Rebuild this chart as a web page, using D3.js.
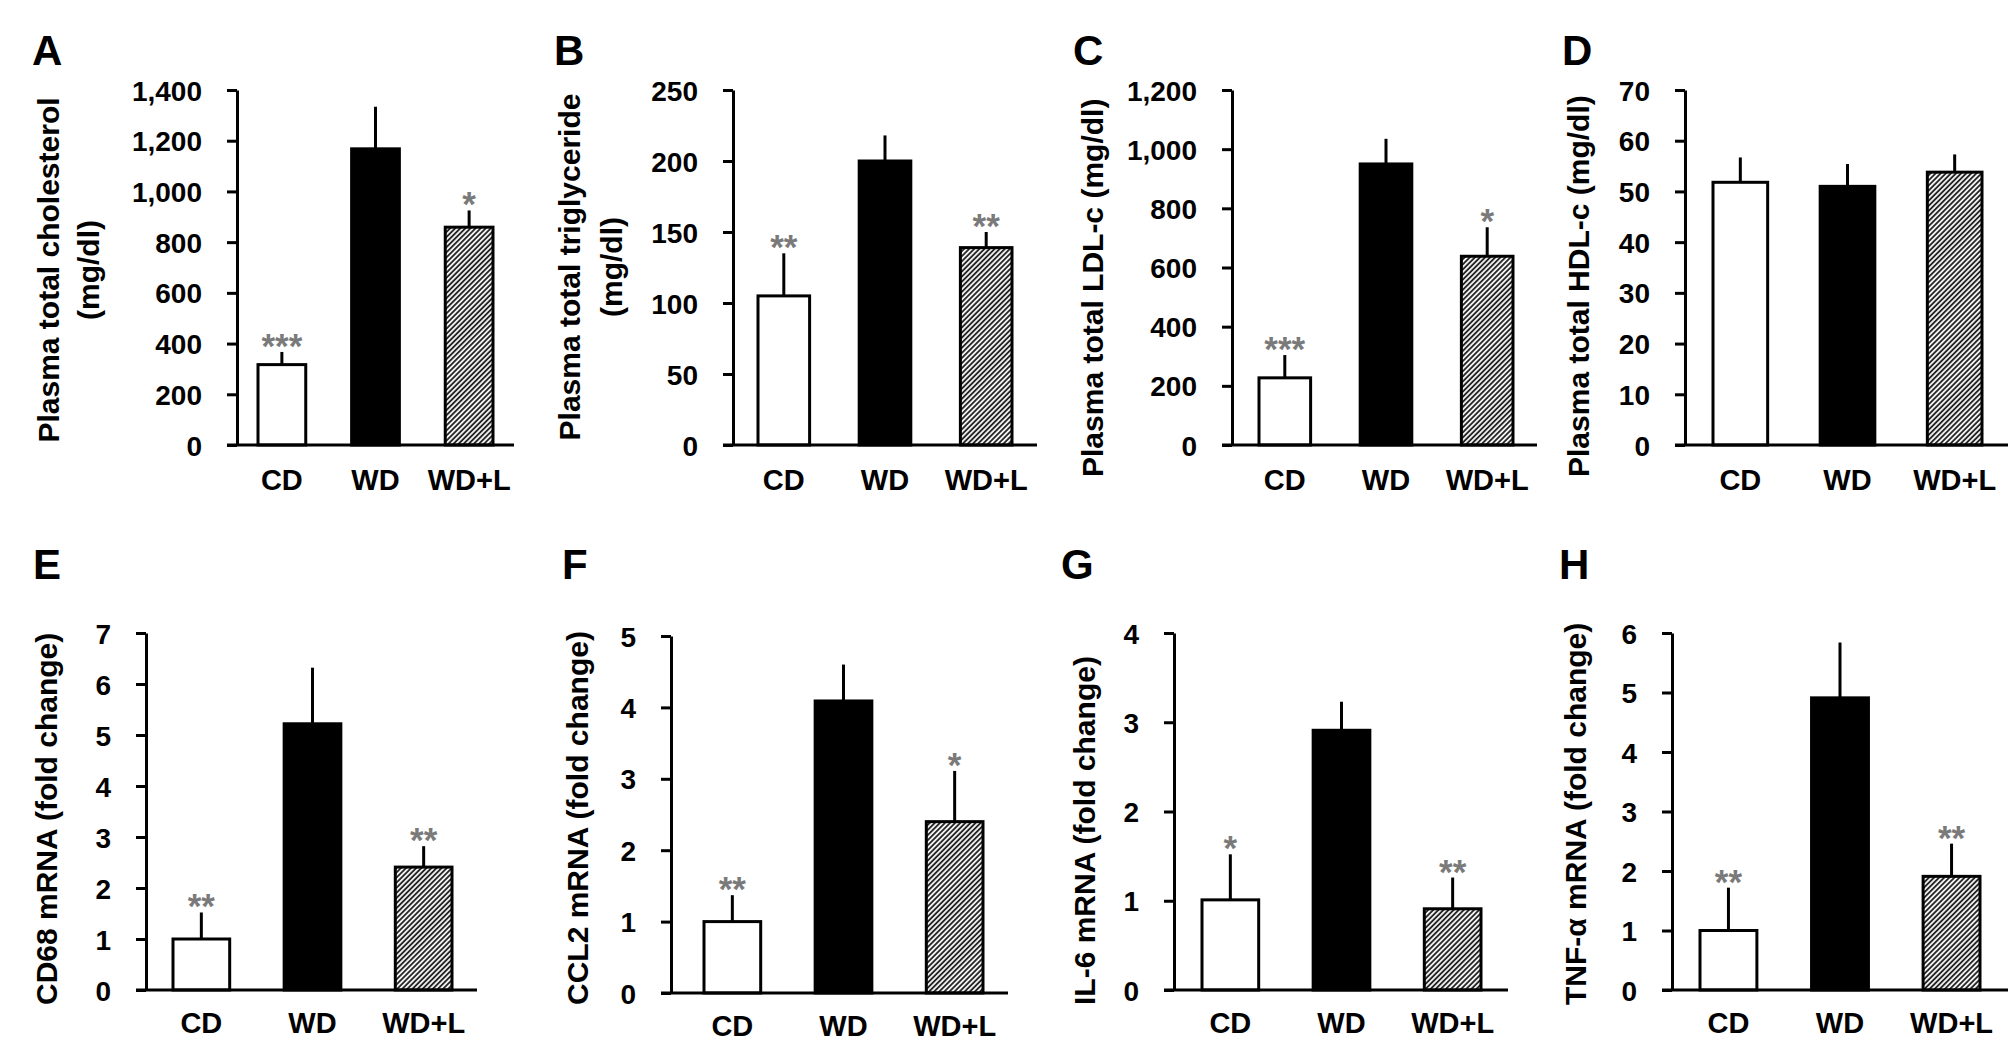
<!DOCTYPE html>
<html>
<head>
<meta charset="utf-8">
<script src="https://cdn.jsdelivr.net/npm/d3@7"></script>
<style>
    body { margin: 0; background: #fff; }
    svg { display: block; }
</style>
</head>
<body>
<div id="chart"></div>
<script>
// groups on the x axis
const groups = ["CD", "WD", "WD+L"];

// A: plasma total cholesterol (mg/dl)
const cholMean = [317, 1168, 859];
const cholErr = [50, 166, 66];
const cholStars = ["***", "", "*"];
const cholTicks = [0, 200, 400, 600, 800, 1000, 1200, 1400];

// B: plasma total triglyceride (mg/dl)
const trigMean = [105, 200, 139];
const trigErr = [30, 18, 11];
const trigStars = ["**", "", "**"];
const trigTicks = [0, 50, 100, 150, 200, 250];

// C: plasma total LDL-c (mg/dl)
const ldlMean = [227, 950, 638];
const ldlErr = [77, 85, 98];
const ldlStars = ["***", "", "*"];
const ldlTicks = [0, 200, 400, 600, 800, 1000, 1200];

// D: plasma total HDL-c (mg/dl)
const hdlMean = [51.8, 51.0, 53.8];
const hdlErr = [4.9, 4.4, 3.5];
const hdlStars = ["", "", ""];
const hdlTicks = [0, 10, 20, 30, 40, 50, 60, 70];

// E: CD68 mRNA (fold change)
const cd68Mean = [1.0, 5.22, 2.41];
const cd68Err = [0.52, 1.1, 0.41];
const cd68Stars = ["**", "", "**"];
const cd68Ticks = [0, 1, 2, 3, 4, 5, 6, 7];

// F: CCL2 mRNA (fold change)
const ccl2Mean = [1.0, 4.09, 2.4];
const ccl2Err = [0.37, 0.51, 0.71];
const ccl2Stars = ["**", "", "*"];
const ccl2Ticks = [0, 1, 2, 3, 4, 5];

// G: IL-6 mRNA (fold change)
const il6Mean = [1.01, 2.91, 0.91];
const il6Err = [0.51, 0.32, 0.35];
const il6Stars = ["*", "", "**"];
const il6Ticks = [0, 1, 2, 3, 4];

// H: TNF-α mRNA (fold change)
const tnfMean = [1.0, 4.91, 1.91];
const tnfErr = [0.72, 0.93, 0.55];
const tnfStars = ["**", "", "**"];
const tnfTicks = [0, 1, 2, 3, 4, 5, 6];

const comma = d3.format(",");
const plain = d3.format("d");

// panel layout (pixels)
const top1 = {top: 90, zero: 445, catY: 490, letterY: 65, labelStart: 477};
const top2 = {top: 633, zero: 990, catY: 1033, letterY: 579, labelStart: 1005};

const panels = [
    {letter: "A", row: top1, ax: 237, end: 514, b0: 258, b1: 493, lx: 32,
        mean: cholMean, err: cholErr, stars: cholStars, ticks: cholTicks, fmt: comma,
        labels: [["Plasma total cholesterol", 48], ["(mg/dl)", 88]], labelMid: 270},
    {letter: "B", row: top1, ax: 733, end: 1037, b0: 758, b1: 1012, lx: 554,
        mean: trigMean, err: trigErr, stars: trigStars, ticks: trigTicks, fmt: plain,
        labels: [["Plasma total triglyceride", 569], ["(mg/dl)", 611]], labelMid: 267},
    {letter: "C", row: top1, ax: 1232, end: 1537, b0: 1259, b1: 1513, lx: 1073,
        mean: ldlMean, err: ldlErr, stars: ldlStars, ticks: ldlTicks, fmt: comma,
        labels: [["Plasma total LDL-c (mg/dl)", 1092]]},
    {letter: "D", row: top1, ax: 1685, end: 2008, b0: 1713, b1: 1982, lx: 1562,
        mean: hdlMean, err: hdlErr, stars: hdlStars, ticks: hdlTicks, fmt: plain,
        labels: [["Plasma total HDL-c (mg/dl)", 1578]]},
    {letter: "E", row: top2, ax: 146, end: 477, b0: 173, b1: 452, lx: 33,
        mean: cd68Mean, err: cd68Err, stars: cd68Stars, ticks: cd68Ticks, fmt: plain,
        labels: [["CD68 mRNA (fold change)", 46]]},
    {letter: "F", row: top2, ax: 671, end: 1008, b0: 704, b1: 983, lx: 562, dy: 3,
        mean: ccl2Mean, err: ccl2Err, stars: ccl2Stars, ticks: ccl2Ticks, fmt: plain,
        labels: [["CCL2 mRNA (fold change)", 577]]},
    {letter: "G", row: top2, ax: 1174, end: 1508, b0: 1202, b1: 1481, lx: 1061,
        mean: il6Mean, err: il6Err, stars: il6Stars, ticks: il6Ticks, fmt: plain,
        labels: [["IL-6 mRNA (fold change)", 1084]]},
    {letter: "H", row: top2, ax: 1672, end: 2008, b0: 1700, b1: 1980, lx: 1559,
        mean: tnfMean, err: tnfErr, stars: tnfStars, ticks: tnfTicks, fmt: plain,
        labels: [["TNF-α mRNA (fold change)", 1575]]}
];

const fontFamily = "'Liberation Sans', Arial, Helvetica, sans-serif";
const fills = ["#ffffff", "#000000", "url(#hatch)"];

const svg = d3.select("#chart").append("svg")
    .attr("width", 2008)
    .attr("height", 1048)
    .style("font-family", fontFamily);

// diagonal hatch for WD+L
const pattern = svg.append("defs").append("pattern")
    .attr("id", "hatch")
    .attr("patternUnits", "userSpaceOnUse")
    .attr("width", 3.6)
    .attr("height", 3.6)
    .attr("patternTransform", "rotate(45)");
pattern.append("rect")
    .attr("width", 3.6).attr("height", 3.6)
    .attr("fill", "#f0f0f0");
pattern.append("line")
    .attr("x1", 0.9).attr("y1", 0)
    .attr("x2", 0.9).attr("y2", 3.6)
    .attr("stroke", "#262626")
    .attr("stroke-width", 1.8);

panels.forEach(drawPanel);

function drawPanel(p) {
    let off = p.dy || 0;
    let zero = p.row.zero + off, top = p.row.top + off;
    let g = svg.append("g").attr("class", "panel-" + p.letter);

    let y = d3.scaleLinear()
        .domain([0, p.ticks[p.ticks.length - 1]])
        .range([zero, top]);

    let x = d3.scaleBand()
        .domain(groups)
        .range([p.b0, p.b1])
        .paddingInner(0.49);

    // panel letter
    g.append("text")
        .attr("x", p.lx)
        .attr("y", p.row.letterY)
        .attr("font-size", "42px")
        .attr("font-weight", "bold")
        .text(p.letter);

    // y axis
    let yAxis = g.append("g")
        .attr("transform", "translate(" + p.ax + ",0)")
        .call(d3.axisLeft(y)
            .tickValues(p.ticks)
            .tickSize(10)
            .tickSizeOuter(0)
            .tickPadding(25)
            .tickFormat(p.fmt));

    yAxis.attr("font-family", null).attr("font-size", null);
    yAxis.select(".domain").attr("stroke", "#000").attr("stroke-width", 3);
    yAxis.selectAll(".tick line").attr("stroke", "#000").attr("stroke-width", 3);
    yAxis.selectAll(".tick text")
        .attr("fill", "#000")
        .attr("font-size", "28px")
        .attr("font-weight", "bold")
        .attr("dy", "0.36em");

    // bars
    g.selectAll(".bar")
        .data(groups)
        .enter().append("rect")
        .attr("class", "bar")
        .attr("x", d => x(d))
        .attr("width", x.bandwidth())
        .attr("y", (d, i) => y(p.mean[i]))
        .attr("height", (d, i) => zero - y(p.mean[i]))
        .attr("fill", (d, i) => fills[i])
        .attr("stroke", "#000")
        .attr("stroke-width", 3);

    // error bars (upper only)
    g.selectAll(".err")
        .data(groups)
        .enter().append("line")
        .attr("class", "err")
        .attr("x1", d => x(d) + x.bandwidth() / 2)
        .attr("x2", d => x(d) + x.bandwidth() / 2)
        .attr("y1", (d, i) => y(p.mean[i]))
        .attr("y2", (d, i) => y(p.mean[i] + p.err[i]))
        .attr("stroke", "#000")
        .attr("stroke-width", 3);

    // x axis line
    g.append("line")
        .attr("x1", p.ax - 10)
        .attr("x2", p.end)
        .attr("y1", zero)
        .attr("y2", zero)
        .attr("stroke", "#000")
        .attr("stroke-width", 3);

    // significance stars
    g.selectAll(".star")
        .data(groups)
        .enter().append("text")
        .attr("class", "star")
        .attr("x", d => x(d) + x.bandwidth() / 2)
        .attr("y", (d, i) => y(p.mean[i] + p.err[i]) + 6)
        .attr("text-anchor", "middle")
        .attr("font-size", "35px")
        .attr("font-weight", "bold")
        .attr("fill", "#7a7a7a")
        .text((d, i) => p.stars[i]);

    // category labels
    g.selectAll(".cat")
        .data(groups)
        .enter().append("text")
        .attr("class", "cat")
        .attr("x", d => x(d) + x.bandwidth() / 2)
        .attr("y", p.row.catY + off)
        .attr("text-anchor", "middle")
        .attr("font-size", "29px")
        .attr("font-weight", "bold")
        .text(d => d);

    // y axis title
    p.labels.forEach(function (l) {
        let two = p.labels.length > 1;
        let cy = two ? p.labelMid : p.row.labelStart;
        g.append("text")
            .attr("transform", "translate(" + l[1] + "," + cy + ") rotate(-90)")
            .attr("dy", "0.35em")
            .attr("text-anchor", two ? "middle" : "start")
            .attr("font-size", "30px")
            .attr("font-weight", "bold")
            .text(l[0]);
    });
}
</script>
</body>
</html>
